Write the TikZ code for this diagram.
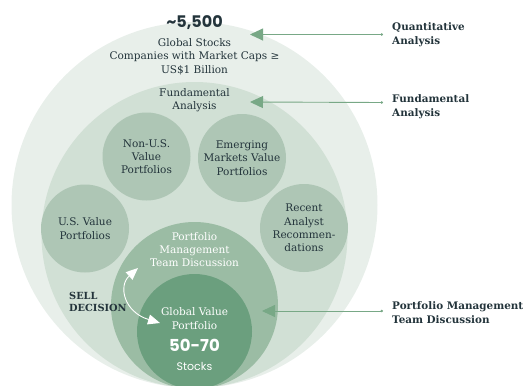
\documentclass[tikz,border=0pt]{standalone}
\usepackage{fontspec}
\setmainfont{DejaVu Serif}
\newfontfamily\numfont{Poppins}
\usetikzlibrary{arrows.meta}
\definecolor{ringA}{HTML}{E8EFEA}
\definecolor{ringB}{HTML}{D1E0D5}
\definecolor{ringC}{HTML}{AEC6B5}
\definecolor{ringD}{HTML}{9BBCA4}
\definecolor{ringE}{HTML}{6B9F7E}
\definecolor{ink}{HTML}{23343B}
\definecolor{leaf}{HTML}{78A886}
\tikzset{
  txt/.style={font=\fontsize{10.5}{13.3}\selectfont,text=ink,align=center,inner sep=0pt},
  wtxt/.style={txt,text=white},
  lbl/.style={font=\bfseries\fontsize{10.4}{14}\selectfont,text=ink,align=left,anchor=west,inner sep=0pt},
  ring/.style={circle,inner sep=0pt,minimum size=#1},
  pill/.style={circle,fill=ringC,minimum size=88pt,inner sep=0pt,txt},
  link/.style={draw=leaf,line width=0.9pt,{Circle[length=2.5pt]}-{Triangle[length=13pt,width=12pt]}},
  sell/.style={draw=white,line width=0.9pt,{Triangle[length=12pt,width=10pt]}-{Triangle[length=12pt,width=10pt]}}
}
\begin{document}
\begin{tikzpicture}[x=1pt,y=-1pt]
\useasboundingbox (0,0) rectangle (523,386);
\clip (0,0) rectangle (523,386);
% nested rings, all resting on the bottom edge
\node[ring=366pt,fill=ringA] (quantring) at (194.5,205) {};
\node[ring=306pt,fill=ringB] (fundring) at (194.5,235) {};
\foreach \cx/\cy/\nm/\lb in {146.5/156.5/nonus/{Non-U.S.\\Value\\Portfolios},242/158/emerg/{Emerging\\Markets Value\\Portfolios},85/228.5/usval/{U.S. Value\\Portfolios},304/228/recent/{Recent\\Analyst\\Recommen-\\dations}}{\node[pill] (\nm) at (\cx,\cy) {\lb};}
\node[ring=167pt,fill=ringD] (pmring) at (194.5,305.5) {};
\node[ring=115pt,fill=ringE] (gvring) at (194.5,331.5) {};
% texts
\node[font=\numfont\bfseries\fontsize{16}{19}\selectfont,text=ink,inner sep=0pt] (count) at (194.5,22.5) {\textasciitilde 5,500};
\node[txt] (universe) at (194.5,56.5) {Global Stocks\\Companies with Market Caps ≥\\US\$1 Billion};
\node[txt] (fundtxt) at (194.5,100) {Fundamental\\Analysis};
\node[wtxt] (pmtxt) at (194.5,249.5) {Portfolio\\Management\\Team Discussion};
\node[wtxt] (gvtxt) at (194.5,318.5) {Global Value\\Portfolio};
\node[font=\numfont\bfseries\fontsize{16.5}{19}\selectfont,text=white,inner sep=0pt] (range) at (194.5,345.5) {50-70};
\node[font=\numfont\fontsize{11}{13}\selectfont,text=white,inner sep=0pt] (stocks) at (194.5,366) {Stocks};
\node[lbl,font=\bfseries\fontsize{9.8}{12}\selectfont] (selltxt) at (69,301.5) {SELL\\DECISION};
% sell loop
\coordinate (sellup) at (138,268);
\coordinate (selldn) at (160,323);
\draw[sell] (sellup) .. controls (118,286) and (124,312) .. (selldn);
% side labels
\node[lbl] (quant) at (392,34.5) {Quantitative\\Analysis};
\node[lbl] (fund) at (392,106.5) {Fundamental\\Analysis};
\node[lbl] (pm) at (392,313) {Portfolio Management\\Team Discussion};
\coordinate (quanttip) at (250,34);
\coordinate (fundtip) at (250,102);
\coordinate (pmtip) at (262,311);
\draw[link] ([xshift=-9pt]quant.west) -- (quant.west -| quanttip);
\draw[link] ([xshift=-9pt,yshift=4pt]fund.west) -- (fundtip);
\draw[link] ([xshift=-9pt,yshift=2pt]pm.west) -- (pmtip);
\end{tikzpicture}
\end{document}
